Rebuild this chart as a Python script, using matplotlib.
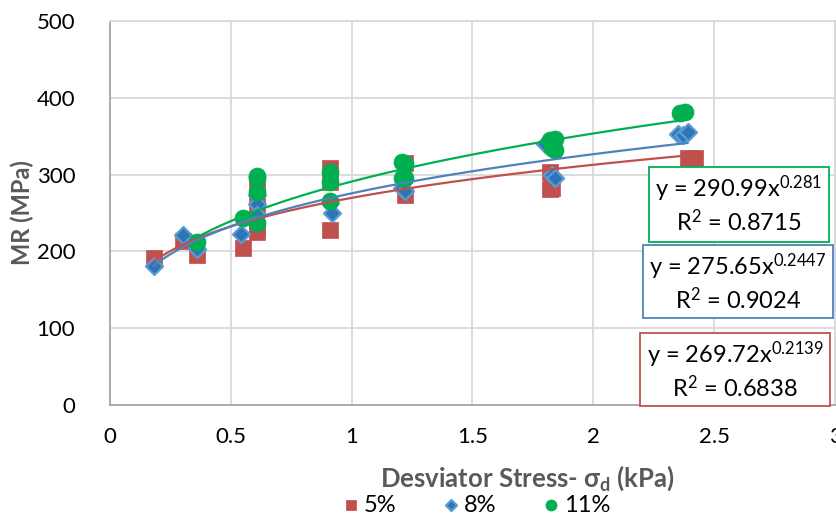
import numpy as np
import matplotlib
matplotlib.use("Agg")
import matplotlib.pyplot as plt
from matplotlib.patches import Rectangle

plt.rcParams['font.family'] = ['Lato', 'DejaVu Sans']

# Resilient modulus vs deviator stress for three moisture contents
x_5 = [0.18, 0.30, 0.36, 0.55, 0.61, 0.61, 0.61, 0.61, 0.91, 0.91, 0.91,
       1.22, 1.22, 1.82, 1.82, 1.83, 2.39, 2.42]
y_5 = [192, 214, 195, 204, 285, 262, 225, 231, 309, 290, 228,
       315, 273, 303, 281, 283, 321, 322]

x_8 = [0.18, 0.30, 0.36, 0.54, 0.61, 0.61, 0.61, 0.91, 0.92,
       1.21, 1.22, 1.80, 1.83, 1.84, 2.35, 2.37, 2.39]
y_8 = [181, 222, 203, 223, 273, 262, 247, 263, 250,
       282, 278, 340, 299, 296, 353, 352, 355]

x_11 = [0.36, 0.55, 0.61, 0.61, 0.61, 0.61, 0.91, 0.91, 0.91,
        1.21, 1.22, 1.21, 1.22, 1.82, 1.84, 1.83, 1.84, 2.36, 2.38]
y_11 = [212, 243, 298, 295, 277, 237, 303, 290, 265,
        316, 314, 296, 295, 345, 347, 334, 332, 380, 381]

# Power-law trendline coefficients: y = a * x^b, with R^2
fit_5 = (269.72, 0.2139, 0.6838)
fit_8 = (275.65, 0.2447, 0.9024)
fit_11 = (290.99, 0.281, 0.8715)

labels = ['5%', '8%', '11%']
x_ticks = [0, 0.5, 1, 1.5, 2, 2.5, 3]
y_ticks = [0, 100, 200, 300, 400, 500]

red = '#C0504D'
blue = '#2E75B6'
blue_line = '#4F81BD'
green = '#00B050'
grid_c = '#D9D9D9'
axis_c = '#A6A6A6'
label_c = '#595959'

fig = plt.figure(figsize=(8.37, 5.16), dpi=100)
ax = fig.add_axes([110 / 837, 1 - 405 / 516, 725 / 837, 384 / 516])

ax.scatter(x_5, y_5, marker='s', s=130, color=red, edgecolors=red,
           linewidths=0.5, label=labels[0], zorder=3)
ax.scatter(x_8, y_8, marker='D', s=75, color=blue, edgecolors='#5B9BD5',
           linewidths=1.6, label=labels[1], zorder=4)
ax.scatter(x_11, y_11, marker='o', s=150, color=green, edgecolors=green,
           linewidths=0.5, label=labels[2], zorder=5)

for xs, (a, b, _), c in [(x_5, fit_5, red), (x_8, fit_8, blue_line),
                         (x_11, fit_11, green)]:
    xx = np.linspace(min(xs), max(xs), 200)
    ax.plot(xx, a * xx ** b, color=c, lw=1.6, zorder=6)

ax.set_xlim(0, 3)
ax.set_ylim(0, 500)
ax.set_xticks(x_ticks)
ax.set_xticklabels(['0', '0.5', '1', '1.5', '2', '2.5', '3'])
ax.set_yticks(y_ticks)
ax.grid(True, color=grid_c, lw=1.3)
ax.set_axisbelow(True)
for side in ['top', 'right']:
    ax.spines[side].set_color(grid_c)
    ax.spines[side].set_linewidth(1.3)
for side in ['left', 'bottom']:
    ax.spines[side].set_color(axis_c)
    ax.spines[side].set_linewidth(1.3)
ax.tick_params(length=0, labelsize=16, colors='black')
ax.tick_params(axis='x', pad=16)
ax.tick_params(axis='y', pad=25)

ax.set_ylabel('MR (MPa)', fontsize=17, fontweight='bold', color=label_c,
              labelpad=2)
fig.text(527 / 837, 1 - 478 / 516,
         r'Desviator Stress- $\mathregular{\sigma_d}$ (kPa)', fontsize=18.5,
         fontweight='bold', color=label_c, ha='center', va='center')


def eq_box(fit, color, x0, y0, x1, y1):
    a, b, r2 = fit
    bx = Rectangle((x0 / 837, 1 - y1 / 516), (x1 - x0) / 837, (y1 - y0) / 516,
                   transform=fig.transFigure, fill=True, facecolor='white',
                   edgecolor=color, lw=1.3, zorder=10)
    fig.add_artist(bx)
    cx = (x0 + x1) / 2 / 837
    fig.text(cx, 1 - (y0 + 22) / 516,
             r'y = %s$\mathregular{x^{%s}}$' % (f'{a:.2f}', f'{b:g}'),
             ha='center', va='center', fontsize=17, zorder=11)
    fig.text(cx, 1 - (y0 + 55) / 516,
             r'R$\mathregular{^2}$ = %s' % f'{r2:.4f}',
             ha='center', va='center', fontsize=17, zorder=11)


eq_box(fit_11, green, 649, 167, 829, 242)
eq_box(fit_8, blue_line, 643, 245, 833, 318)
eq_box(fit_5, red, 640, 333, 830, 406)

leg = fig.legend(loc='center', bbox_to_anchor=(0.567, 1 - 505 / 516), ncol=3,
                 frameon=False, fontsize=17, handletextpad=0.05,
                 columnspacing=1.8, markerscale=0.65, handlelength=1.0,
                 borderpad=0)

fig.savefig('out.png', dpi=100)
